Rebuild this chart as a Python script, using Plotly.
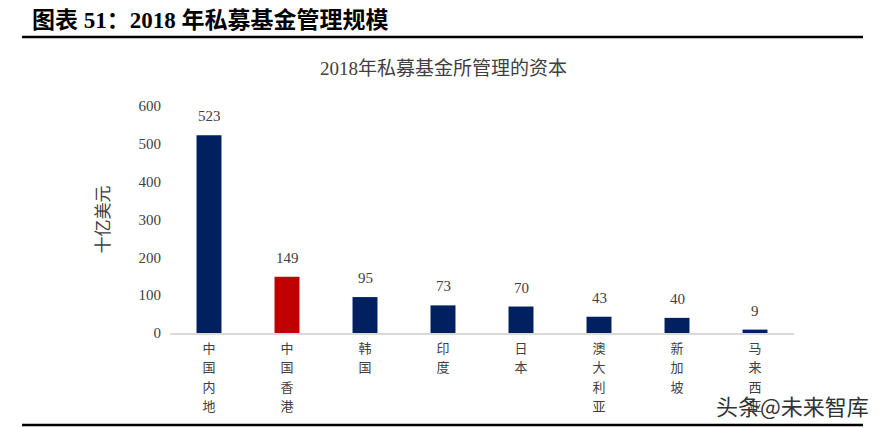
import plotly.graph_objects as go

categories = ["中国内地", "中国香港", "韩国", "印度", "日本", "澳大利亚", "新加坡", "马来西亚"]
values = [523, 149, 95, 73, 70, 43, 40, 9]
bar_colors = ["#002060", "#C00000", "#002060", "#002060", "#002060", "#002060", "#002060", "#002060"]
y_ticks = [0, 100, 200, 300, 400, 500, 600]

SERIF = "Liberation Serif, Times New Roman, Noto Sans CJK SC, serif"
CJK = "Noto Sans CJK SC"

OFF = 8  # page body margin
W, H = 885, 428
L, R, T, B = 170 - OFF, 885 - (794 - OFF), 106 - OFF, 428 - (333 - OFF)
pw, ph = W - L - R, H - T - B

def px_x(p):
    return (p - OFF - L) / pw

def px_y(p):
    return (H - B - (p - OFF)) / ph

def stack(label):
    return "<br>".join('<span style="font-size:13px">%s</span>' % ch for ch in label)

fig = go.Figure()
fig.add_trace(go.Bar(
    x=categories,
    y=values,
    marker=dict(color=bar_colors, line=dict(width=0)),
    width=0.32,
    hoverinfo="x+y",
))

annotations = [
    dict(x=c, y=v, xref="x", yref="y", text=str(v), showarrow=False,
         yanchor="middle", yshift=19,
         font=dict(family=SERIF, size=15, color="#404040"))
    for c, v in zip(categories, values)
]
annotations += [
    dict(text="<b>图表 51：2018 年私募基金管理规模</b>", xref="paper", yref="paper",
         x=px_x(30), y=px_y(20), xanchor="left", yanchor="middle", showarrow=False,
         font=dict(family="Liberation Serif, Noto Sans CJK SC", size=23, color="black")),
    dict(text="2018年私募基金所管理的资本", xref="paper", yref="paper",
         x=px_x(443), y=px_y(68), xanchor="center", yanchor="middle", showarrow=False,
         font=dict(family="Liberation Serif, Noto Sans CJK SC", size=19, color="#404040")),
    dict(text="头条@未来智库", xref="paper", yref="paper",
         x=px_x(871), y=px_y(405), xanchor="right", yanchor="middle", showarrow=False,
         font=dict(family=CJK, size=22, color="#333333")),
]

fig.update_layout(
    width=W, height=H,
    margin=dict(l=L, r=R, t=T, b=B),
    paper_bgcolor="white",
    plot_bgcolor="white",
    showlegend=False,
    font=dict(family=SERIF, color="#404040"),
    xaxis=dict(
        tickmode="array",
        tickvals=categories,
        ticktext=[stack(c) for c in categories],
        tickangle=0,
        tickfont=dict(family=CJK, size=15, color="#404040"),
        showline=True, linecolor="#D9D9D9", linewidth=1.5,
        showgrid=False, ticks="", ticklen=0,
    ),
    yaxis=dict(
        range=[0, 600],
        tickmode="array",
        tickvals=y_ticks,
        ticktext=[str(v) for v in y_ticks],
        tickfont=dict(family=SERIF, size=15, color="#404040"),
        showgrid=False, zeroline=False, showline=False,
        ticks="", ticklabelstandoff=8,
        title=dict(text="十亿美元", font=dict(family=CJK, size=17, color="#404040"), standoff=24),
    ),
    shapes=[
        dict(type="line", xref="paper", yref="paper", x0=px_x(22), x1=px_x(863), y0=px_y(37), y1=px_y(37),
             line=dict(color="black", width=2.5)),
        dict(type="line", xref="paper", yref="paper", x0=px_x(22), x1=px_x(863), y0=px_y(425), y1=px_y(425),
             line=dict(color="black", width=2.5)),
    ],
    annotations=annotations,
)

fig.write_html("out.html")
